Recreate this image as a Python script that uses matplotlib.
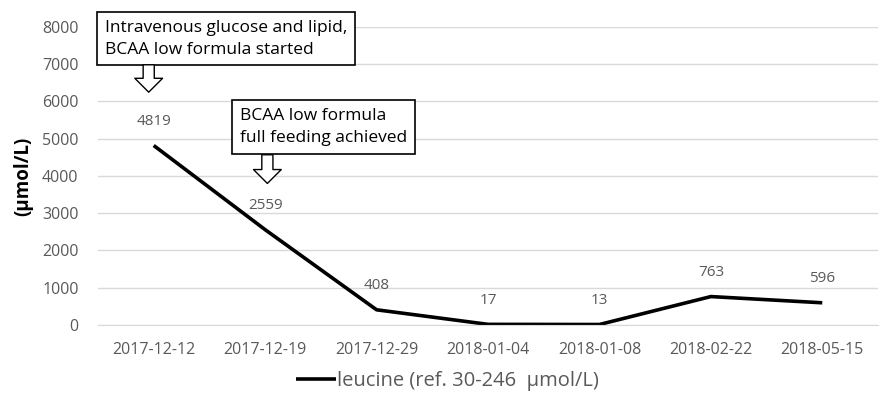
import matplotlib
matplotlib.use("Agg")
import matplotlib.pyplot as plt

plt.rcParams["font.family"] = ["Open Sans", "DejaVu Sans"]

dates = ["2017-12-12", "2017-12-19", "2017-12-29", "2018-01-04",
         "2018-01-08", "2018-02-22", "2018-05-15"]
leucine = [4819, 2559, 408, 17, 13, 763, 596]
yticks = [0, 1000, 2000, 3000, 4000, 5000, 6000, 7000, 8000]

GRAY = "#595959"

fig = plt.figure(figsize=(8.95, 4.09), dpi=100)
ax = fig.add_axes([0.1095, 0.2054, 0.8715, 0.7286])

x = list(range(len(dates)))
ax.plot(x, leucine, color="black", lw=2.6, solid_capstyle="butt",
        label="leucine (ref. 30-246  \u03bcmol/L)")
for xi, v in zip(x, leucine):
    ax.annotate(str(v), (xi, v), xytext=(0, 12), textcoords="offset points",
                ha="center", va="bottom", fontsize=11, color=GRAY)

ax.set_xlim(-0.5, len(dates) - 0.5)
ax.set_ylim(0, 8000)
ax.set_yticks(yticks)
ax.set_xticks(x)
ax.set_xticklabels(dates)
ax.tick_params(axis="both", length=0, labelsize=11.5, labelcolor=GRAY)
ax.tick_params(axis="x", pad=12)
ax.tick_params(axis="y", pad=14)
ax.grid(axis="y", color="#d9d9d9", lw=1)
ax.set_axisbelow(True)
for s in ("top", "right", "left"):
    ax.spines[s].set_visible(False)
ax.spines["bottom"].set_color("#d9d9d9")
ax.set_ylabel("(\u03bcmol/L)", fontsize=13.5, fontweight="bold", labelpad=6)

# annotation boxes with hollow arrows
box = dict(boxstyle="square,pad=0.45", fc="white", ec="black", lw=1.2)
ax.text(-0.44, 7680, "Intravenous glucose and lipid,\nBCAA low formula started",
        ha="left", va="center", fontsize=12.5, linespacing=1.45, bbox=box,
        clip_on=False)
ax.text(0.772, 5315, "BCAA low formula\nfull feeding achieved",
        ha="left", va="center", fontsize=12.5, linespacing=1.45, bbox=box)
arrow = dict(arrowstyle="simple,head_width=2.0,head_length=1.0,tail_width=0.8",
             fc="white", ec="black", lw=1, shrinkA=0, shrinkB=0)
ax.annotate("", xy=(-0.045, 6250), xytext=(-0.045, 6985), arrowprops=arrow)
ax.annotate("", xy=(1.02, 3800), xytext=(1.02, 4570), arrowprops=arrow)

fig.legend(loc="lower center", bbox_to_anchor=(0.5, 0.0), frameon=False,
           fontsize=14.5, handlelength=2.0, handletextpad=0.05,
           labelcolor=GRAY)

fig.savefig("out.png", dpi=100)
